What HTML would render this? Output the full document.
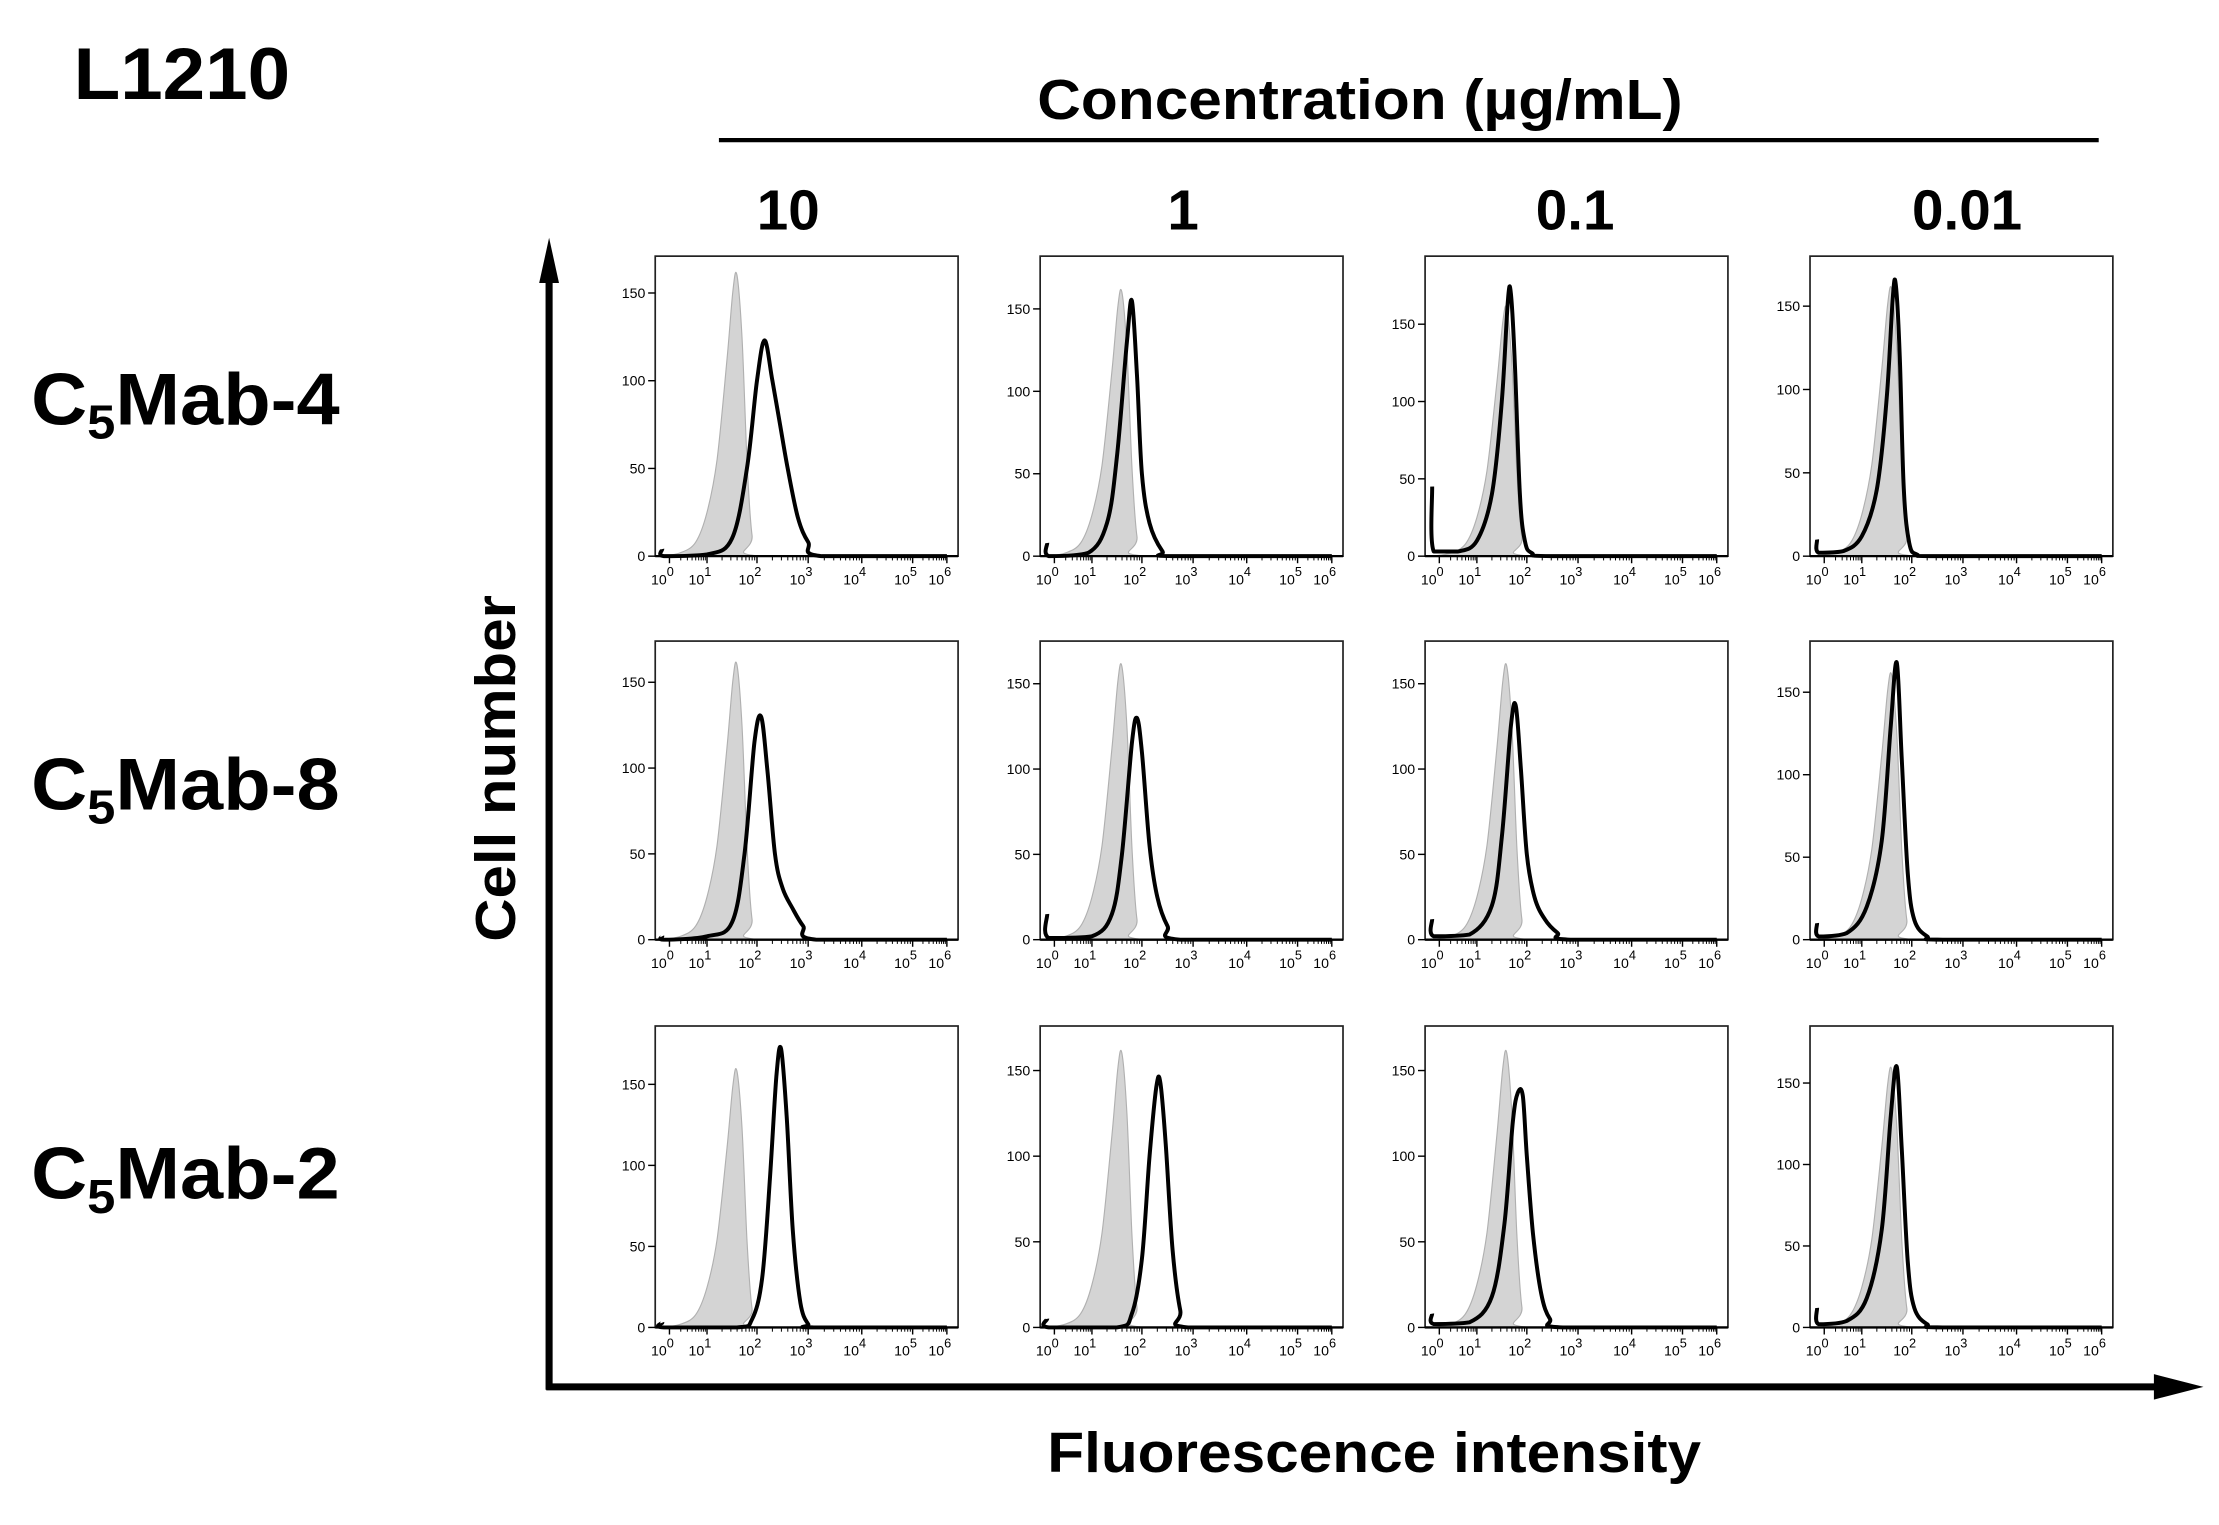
<!DOCTYPE html>
<html><head><meta charset="utf-8"><style>
html,body{margin:0;padding:0;background:#fff;}
svg{display:block;}
text{font-family:"Liberation Sans",Arial,sans-serif;}
</style></head><body>
<svg id="fig" width="2219" height="1525" viewBox="0 0 1568 1077.6" preserveAspectRatio="none" xmlns="http://www.w3.org/2000/svg">
<text x="52" y="70" font-size="52" font-weight="bold" textLength="153" lengthAdjust="spacingAndGlyphs">L1210</text>
<text x="961" y="84" font-size="40" font-weight="bold" text-anchor="middle" textLength="456" lengthAdjust="spacingAndGlyphs">Concentration (µg/mL)</text>
<line x1="508" y1="99" x2="1483" y2="99" stroke="#000" stroke-width="3"/>
<text x="557" y="162" font-size="40" font-weight="bold" text-anchor="middle">10</text>
<text x="836" y="162" font-size="40" font-weight="bold" text-anchor="middle">1</text>
<text x="1113" y="162" font-size="40" font-weight="bold" text-anchor="middle">0.1</text>
<text x="1390" y="162" font-size="40" font-weight="bold" text-anchor="middle">0.01</text>
<text x="22" y="300" font-size="52" font-weight="bold" textLength="218" lengthAdjust="spacingAndGlyphs">C<tspan font-size="34" dy="10">5</tspan><tspan dy="-10">Mab-4</tspan></text>
<text x="22" y="572" font-size="52" font-weight="bold" textLength="218" lengthAdjust="spacingAndGlyphs">C<tspan font-size="34" dy="10">5</tspan><tspan dy="-10">Mab-8</tspan></text>
<text x="22" y="847" font-size="52" font-weight="bold" textLength="218" lengthAdjust="spacingAndGlyphs">C<tspan font-size="34" dy="10">5</tspan><tspan dy="-10">Mab-2</tspan></text>
<text transform="translate(364,543) rotate(-90)" font-size="40" font-weight="bold" text-anchor="middle" textLength="245" lengthAdjust="spacingAndGlyphs">Cell number</text>
<text x="971" y="1040" font-size="40" font-weight="bold" text-anchor="middle" textLength="462" lengthAdjust="spacingAndGlyphs">Fluorescence intensity</text>
<g>
<line x1="388" y1="982" x2="388" y2="195" stroke="#000" stroke-width="5"/>
<polygon points="388,168 381,200 395,200" fill="#000"/>
</g>
<g>
<line x1="386" y1="980" x2="1525" y2="980" stroke="#000" stroke-width="5"/>
<polygon points="1557,980 1522,971 1522,989" fill="#000"/>
</g>
<g id="panels"></g>
</svg>
<script>
// Chart data (log10 fluorescence, cell count)
const rowNames = ["C5Mab-4","C5Mab-8","C5Mab-2"];
const colNames = ["10","1","0.1","0.01"];
const yMaxes = [[171,182,194,180],[174,175,175,181],[186,176,176,185]];
const yTicks = [0,50,100,150];
const xTickExps = [0,1,2,3,4,5,6];
const controlCurve = [[-0.38,0],[0.3,2],[0.7,8],[1.0,25],[1.2,55],[1.4,112],[1.52,152],[1.6,160],[1.7,125],[1.8,55],[1.9,12],[2.05,0],[6,0]];
const controlPeaks = [[160,160,160,160],[160,160,160,160],[158,160,160,158]];
const stained = [
 [
  [[-0.38,4],[-0.3,0],[1.0,1],[1.5,10],[1.8,50],[2.0,100],[2.15,123],[2.3,100],[2.45,75],[2.6,50],[2.8,22],[3.0,8],[3.25,0],[6,0]],
  [[-0.38,8],[-0.28,0],[0.9,2],[1.3,20],[1.5,60],[1.7,130],[1.8,155],[1.9,110],[2.0,50],[2.15,20],[2.4,3],[2.6,0],[6,0]],
  [[-0.38,45],[-0.3,3],[0.5,3],[1.0,10],[1.3,40],[1.5,100],[1.62,165],[1.68,170],[1.76,125],[1.86,40],[1.96,10],[2.1,2],[2.5,0],[6,0]],
  [[-0.38,10],[-0.3,2],[0.5,3],[1.0,12],[1.3,40],[1.5,95],[1.62,155],[1.68,163],[1.76,120],[1.84,40],[1.95,8],[2.1,1],[2.5,0],[6,0]]
 ],
 [
  [[-0.38,2],[-0.3,0],[1.0,2],[1.5,10],[1.75,50],[1.95,115],[2.08,130],[2.2,100],[2.35,50],[2.5,30],[2.7,18],[2.9,8],[3.15,0],[6,0]],
  [[-0.38,15],[-0.3,1],[1.0,2],[1.4,15],[1.6,50],[1.8,115],[1.9,130],[2.0,110],[2.15,55],[2.3,25],[2.5,8],[2.75,0],[6,0]],
  [[-0.38,12],[-0.3,2],[0.8,3],[1.3,20],[1.5,60],[1.68,125],[1.78,137],[1.88,100],[2.0,50],[2.15,25],[2.35,12],[2.6,4],[2.85,0],[6,0]],
  [[-0.38,10],[-0.3,2],[0.6,4],[1.1,20],[1.4,60],[1.58,130],[1.7,168],[1.8,110],[1.92,40],[2.05,12],[2.3,2],[2.6,0],[6,0]]
 ],
 [
  [[-0.38,3],[-0.3,0],[1.6,0],[1.9,5],[2.1,30],[2.25,90],[2.38,155],[2.47,172],[2.58,130],[2.7,60],[2.85,15],[3.0,2],[3.1,0],[6,0]],
  [[-0.38,5],[-0.3,0],[1.5,0],[1.8,8],[2.0,40],[2.15,100],[2.28,140],[2.36,143],[2.47,105],[2.6,45],[2.75,10],[2.9,0],[6,0]],
  [[-0.38,8],[-0.3,2],[0.8,3],[1.3,18],[1.55,60],[1.72,120],[1.82,137],[1.92,135],[2.0,100],[2.12,55],[2.28,20],[2.45,5],[2.7,0],[6,0]],
  [[-0.38,12],[-0.3,2],[0.6,4],[1.1,18],[1.4,60],[1.58,130],[1.7,160],[1.8,110],[1.92,40],[2.05,12],[2.3,2],[2.6,0],[6,0]]
 ]
];
</script>
<script>
const colLefts=[463,735,1007,1279], panelW=214;
const rowTops=[181,453,725], rowBases=[393,664,938];
const decFrac=[0.047,0.171,0.336,0.505,0.682,0.85,0.963];
const NS="http://www.w3.org/2000/svg";
function xScale(L,v){
  let f;
  if(v<=0){f=decFrac[0]+v*(decFrac[1]-decFrac[0])*0.5;}
  else if(v>=6){f=decFrac[6];}
  else{const i=Math.floor(v);const t=v-i;f=decFrac[i]+t*(decFrac[i+1]-decFrac[i]);}
  return L+Math.max(0,f)*panelW;
}
function yScale(top,base,ymax,c){return base-(c/ymax)*(base-top);}
function mk(tag,attrs,parent){const e=document.createElementNS(NS,tag);for(const k in attrs)e.setAttribute(k,attrs[k]);parent.appendChild(e);return e;}
function smooth(pts){
  let d="M"+pts[0][0].toFixed(1)+","+pts[0][1].toFixed(1);
  for(let i=0;i<pts.length-1;i++){
    const p0=pts[Math.max(0,i-1)],p1=pts[i],p2=pts[i+1],p3=pts[Math.min(pts.length-1,i+2)];
    let c1x=p1[0]+(p2[0]-p0[0])/6,c1y=p1[1]+(p2[1]-p0[1])/6;
    let c2x=p2[0]-(p3[0]-p1[0])/6,c2y=p2[1]-(p3[1]-p1[1])/6;
    const lo=Math.max(p1[1],p2[1]);
    c1y=Math.min(c1y,lo);c2y=Math.min(c2y,lo);
    d+=" C"+c1x.toFixed(1)+","+c1y.toFixed(1)+" "+c2x.toFixed(1)+","+c2y.toFixed(1)+" "+p2[0].toFixed(1)+","+p2[1].toFixed(1);
  }
  return d;
}
const root=document.getElementById("panels");
for(let r=0;r<3;r++){for(let c=0;c<4;c++){
  const L=colLefts[c],T=rowTops[r],B=rowBases[r],ym=yMaxes[r][c];
  const g=mk("g",{},root);
  
  
  const cp=controlPeaks[r][c]/160;
  const gpts=controlCurve.map(p=>[xScale(L,p[0]),yScale(T,B,ym,p[1]*cp)]);
  const gp=mk("path",{d:smooth(gpts)+" L"+(L+panelW)+","+B+" L"+L+","+B+" Z",fill:"#d4d4d4",stroke:"#b0b0b0","stroke-width":"0.8"},g);
  
  
  const spts=stained[r][c].map(p=>[xScale(L,p[0]),yScale(T,B,ym,p[1])]);
  const sp=mk("path",{d:smooth(spts),fill:"none",stroke:"#000","stroke-width":"2.8","stroke-linejoin":"round"},g);
  
  
  const fr=mk("rect",{x:L,y:T,width:panelW,height:B-T,fill:"none",stroke:"#222","stroke-width":"1.2"},g);
  
  
  mk("line",{x1:L,y1:B,x2:L+panelW,y2:B,stroke:"#000","stroke-width":"1.6"},g);
  yTicks.forEach(v=>{
    const y=yScale(T,B,ym,v);
    mk("line",{x1:L-5,y1:y,x2:L,y2:y,stroke:"#000","stroke-width":"1"},g);
    const t=mk("text",{x:L-7,y:y+3.5,"font-size":"10","text-anchor":"end"},g);
    t.textContent=v;
    
    
  });
  xTickExps.forEach(e=>{
    const x=xScale(L,e);
    mk("line",{x1:x,y1:B,x2:x,y2:B+5,stroke:"#000","stroke-width":"1"},g);
    if(e<6){for(let k=2;k<10;k++){const xm=xScale(L,e+Math.log10(k));mk("line",{x1:xm,y1:B,x2:xm,y2:B+3,stroke:"#000","stroke-width":"0.7"},g);}}
    const t=mk("text",{x:x-5,y:B+20,"font-size":"10","text-anchor":"middle"},g);
    t.textContent="10";
    const s=mk("tspan",{"font-size":"9",dy:"-6"},t);
    s.textContent=String(e);
    
    
  });
}}
</script>
</body></html>
